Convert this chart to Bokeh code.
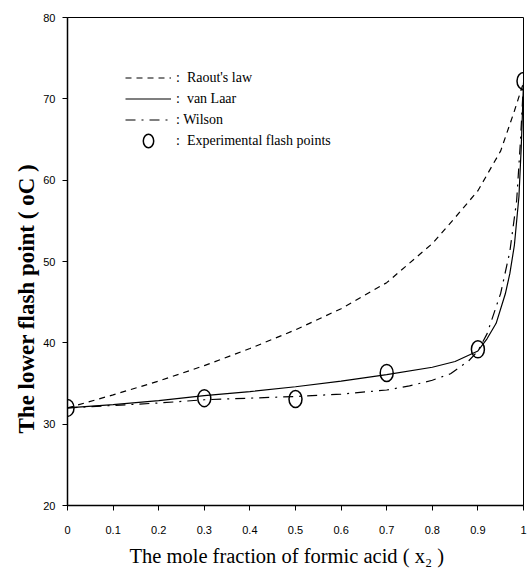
from bokeh.plotting import figure
from bokeh.models import FixedTicker, Legend, LegendItem, Range1d, Title
from bokeh.embed import file_html
from bokeh.resources import INLINE

# data
raoult_x = [0.0, 0.1, 0.2, 0.3, 0.4, 0.5, 0.6, 0.7, 0.8, 0.85, 0.9, 0.95, 0.98, 1.0]
raoult_y = [32.0, 33.6, 35.3, 37.2, 39.3, 41.6, 44.2, 47.4, 52.2, 55.4, 58.7, 63.6, 68.5, 72.0]

vanlaar_x = [0.0, 0.1, 0.2, 0.3, 0.4, 0.5, 0.6, 0.7, 0.8, 0.85, 0.9, 0.92, 0.94, 0.96, 0.97, 0.98, 0.99, 0.995, 1.0]
vanlaar_y = [32.0, 32.4, 32.9, 33.5, 34.0, 34.6, 35.3, 36.1, 37.0, 37.7, 39.0, 40.5, 42.4, 46.0, 48.5, 52.0, 58.0, 64.0, 72.0]

wilson_x = [0.0, 0.1, 0.2, 0.3, 0.4, 0.5, 0.6, 0.7, 0.75, 0.8, 0.84, 0.88, 0.9, 0.92, 0.95, 0.97, 0.985, 0.993, 1.0]
wilson_y = [32.0, 32.3, 32.6, 33.0, 33.2, 33.4, 33.7, 34.2, 34.7, 35.4, 36.2, 37.8, 39.0, 41.1, 46.1, 51.2, 57.5, 64.5, 72.0]

exp_x = [0.0, 0.3, 0.5, 0.7, 0.9, 1.0]
exp_y = [32.0, 33.2, 33.1, 36.3, 39.2, 72.2]

x_ticks = [0.0, 0.1, 0.2, 0.3, 0.4, 0.5, 0.6, 0.7, 0.8, 0.9, 1.0]
y_ticks = [20, 30, 40, 50, 60, 70, 80]

p = figure(width=532, height=576, output_backend="svg", toolbar_location=None,
           x_range=Range1d(0, 1), y_range=Range1d(20, 80),
           min_border_left=67, min_border_right=9, min_border_top=17, min_border_bottom=71)
p.background_fill_color = "white"
p.border_fill_color = "white"
p.outline_line_color = "black"
p.outline_line_width = 1
p.grid.visible = False

SERIF = "Liberation Serif"
SANS = "Liberation Sans"

p.xaxis.ticker = FixedTicker(ticks=x_ticks)
p.yaxis.ticker = FixedTicker(ticks=y_ticks)
p.xaxis.major_label_overrides = {0.0: "0", 1.0: "1"}
for ax in (p.xaxis, p.yaxis):
    ax.minor_tick_line_color = None
    ax.major_tick_in = 0
    ax.major_tick_out = 5
    ax.major_tick_line_color = "black"
    ax.axis_line_color = "black"
    ax.axis_line_width = 1.5
    ax.major_label_text_font = SANS
    ax.major_label_text_font_size = "11px"
    ax.major_label_text_color = "black"
p.xaxis.major_label_standoff = 15
p.yaxis.major_label_standoff = 7

# axis titles (slightly off-centre as in the original)
p.add_layout(Title(text="The mole fraction of formic acid ( x\u2082 )", align="left",
                   offset=62, standoff=12, text_font=SERIF, text_font_size="20.5px",
                   text_font_style="normal", text_color="black"), "below")
p.add_layout(Title(text="The lower flash point ( oC )", align="left",
                   offset=72, standoff=3, text_font=SERIF, text_font_size="23px",
                   text_font_style="bold", text_color="black"), "left")

r_raoult = p.line(raoult_x, raoult_y, line_color="black", line_width=1.2, line_dash="6 5")
r_vl = p.line(vanlaar_x, vanlaar_y, line_color="black", line_width=1.2)
r_w = p.line(wilson_x, wilson_y, line_color="black", line_width=1.2, line_dash="10 6 2 6")
r_exp = p.ellipse(exp_x, exp_y, width=13, height=17, width_units="screen", height_units="screen",
                  fill_color=None, line_color="black", line_width=1.5)

legend = Legend(items=[
    LegendItem(label=":  Raout's law", renderers=[r_raoult]),
    LegendItem(label=":  van Laar", renderers=[r_vl]),
    LegendItem(label=": Wilson", renderers=[r_w]),
    LegendItem(label=":  Experimental flash points", renderers=[r_exp]),
], location=(58, 354))
legend.border_line_color = None
legend.background_fill_alpha = 0
legend.padding = 0
legend.margin = 0
legend.spacing = 0
legend.label_height = 21
legend.glyph_height = 17
legend.glyph_width = 46
legend.label_standoff = 5
legend.label_text_font = SERIF
legend.label_text_font_size = "14px"
legend.label_text_color = "black"
p.add_layout(legend, "center")

open("out.html", "w").write(file_html(p, INLINE))
